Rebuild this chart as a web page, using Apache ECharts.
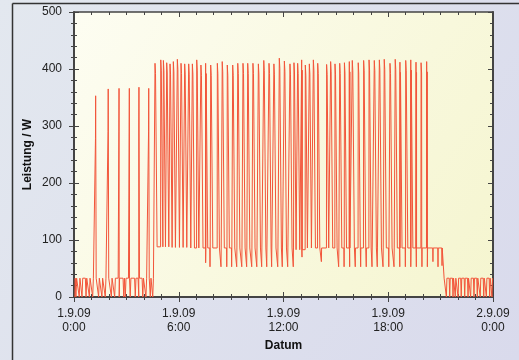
<!DOCTYPE html>
<html><head><meta charset="utf-8">
<script src="https://cdn.jsdelivr.net/npm/echarts@6/dist/echarts.min.js"></script>
<style>html,body{margin:0;padding:0;background:#e0e4ee;overflow:hidden}#c{width:519px;height:360px}</style>
</head><body><div id="c"></div>
<script>
// ---- tick labels (x axis in hours since 1.9.09 0:00) ----
const xTickLabels = ['1.9.09\n0:00', '1.9.09\n6:00', '1.9.09\n12:00', '1.9.09\n18:00', '2.9.09\n0:00'];

// ---- baseline levels (W) ----
const lowLevel = 33;                 // night / standby level
const jumpUpTime = 4.64;             // hours
const dropDownTime = 21.14;          // hours
const baseStepTimes  = [4.64, 5.5, 6.5, 12.6, 13.3];
const baseStepValues = [88,   87,  86,  83,   86];

// ---- early spikes (0:00 - 4:40) ----
const spikeTimesA = [1.24, 1.96, 2.58, 3.17, 3.72, 4.28];
const spikePeaksA = [353, 365, 366, 366, 368, 366];
// ---- dips to zero during low level ----
const dipTimesA = [0.11, 0.30, 0.46, 0.69, 0.88, 1.07, 1.41, 1.60, 1.79, 2.14, 2.33, 2.59, 2.85, 2.94, 3.22, 3.51, 3.71, 3.94, 4.12, 4.37, 4.51];

// ---- main spikes (4:40 - 20:15) ----
const spikeTimesB = [4.64, 4.97, 5.12, 5.31, 5.50, 5.69, 5.92, 6.13, 6.34, 6.57,
  6.78, 7.03, 7.27, 7.54, 7.83, 8.21, 8.49, 8.78, 9.09, 9.38,
  9.68, 9.95, 10.25, 10.56, 10.87, 11.17, 11.45, 11.76, 12.05, 12.37,
  12.60, 12.81, 13.04, 13.25, 13.48, 13.71, 13.96, 14.47, 14.70, 14.95,
  15.22, 15.49, 15.77, 15.94, 16.28, 16.59, 16.90, 17.20, 17.49, 17.77,
  18.10, 18.40, 18.67, 19.00, 19.29, 19.59, 19.88, 20.20];
const spikePeaksB = [410, 416, 415, 411, 409, 413, 417, 410, 409, 409,
  409, 416, 407, 410, 407, 410, 413, 407, 407, 410,
  410, 410, 410, 409, 415, 410, 409, 419, 414, 409,
  411, 410, 416, 407, 409, 416, 410, 408, 413, 409,
  410, 411, 413, 415, 411, 415, 416, 415, 416, 417,
  410, 417, 412, 415, 416, 412, 411, 413];

// ---- dips during high level ----
const dipTimesB = [7.54, 7.79, 8.42, 8.75, 9.03, 9.32, 9.61, 9.89, 10.18, 10.47,
  10.75, 11.04, 11.32, 11.67, 11.93, 12.24, 12.56, 13.06, 14.17, 15.16,
  15.47, 15.79, 16.11, 16.42, 16.74, 17.07, 17.37, 17.70, 18.03, 18.33,
  18.66, 18.98, 19.29, 19.61, 19.93, 20.24, 20.56, 20.85, 21.08];
const dipValuesB = [60, 53, 53, 53, 53, 53, 53, 53, 53, 53,
  53, 53, 53, 53, 53, 53, 53, 70, 62, 53,
  53, 53, 53, 53, 53, 53, 53, 53, 53, 53,
  53, 53, 53, 53, 53, 53, 62, 53, 55];

// ---- late dips to zero (21:10 - 24:00) ----
const dipTimesC = [21.33, 21.52, 21.71, 21.84, 22.00, 22.18, 22.38, 22.57, 22.72, 22.91, 23.10, 23.27, 23.47, 23.62, 23.81, 23.94];

const startTime = 0.05, endTime = 23.98;

function baseAt(t) {
  if (t < jumpUpTime || t > dropDownTime) return lowLevel;
  let v = baseStepValues[0];
  for (let i = 0; i < baseStepTimes.length; i++) if (t >= baseStepTimes[i]) v = baseStepValues[i];
  return v;
}

// build the line's point list from the read features
const pts = [];
pts.push([startTime, 0], [startTime + 0.02, lowLevel]);
spikeTimesA.forEach((t, i) => {
  pts.push([t - 0.05, baseAt(t - 0.05)], [t - 0.01, spikePeaksA[i] - 75], [t, spikePeaksA[i]], [t + 0.03, baseAt(t + 0.03)]);
});
dipTimesA.forEach(t => { pts.push([t - 0.04, lowLevel], [t, 0], [t + 0.04, lowLevel]); });
spikeTimesB.forEach((t, i) => {
  pts.push([t - 0.01, baseAt(t - 0.01)], [t, spikePeaksB[i]], [t + 0.03, spikePeaksB[i] - 18], [t + 0.12, baseAt(t + 0.12)]);
});
dipTimesB.forEach((t, i) => { pts.push([t - 0.012, baseAt(t - 0.012)], [t, dipValuesB[i]], [t + 0.012, baseAt(t + 0.012)]); });
pts.push([dropDownTime - 0.04, baseAt(dropDownTime - 0.04)], [dropDownTime + 0.06, lowLevel]);
dipTimesC.forEach(t => { pts.push([t - 0.03, lowLevel], [t, 0], [t + 0.03, lowLevel]); });
pts.push([endTime, lowLevel]);
pts.sort((a, b) => a[0] - b[0]);

const font = 'Liberation Sans, Arial, sans-serif';
const axisCol = '#444';
const tickStyle = { color: axisCol, width: 1 };
const chart = echarts.init(document.getElementById('c'), null, { renderer: 'canvas' });
chart.setOption({
  animation: false,
  backgroundColor: new echarts.graphic.LinearGradient(0, 0, 1, 1, [
    { offset: 0, color: '#e3e8ef' }, { offset: 1, color: '#d9daec' }]),
  textStyle: { fontFamily: font },
  graphic: [
    { type: 'line', shape: { x1: 12.5, y1: 3.5, x2: 519, y2: 3.5 }, style: { stroke: '#333', lineWidth: 1.5 } },
    { type: 'line', shape: { x1: 12.5, y1: 3.5, x2: 12.5, y2: 360 }, style: { stroke: '#333', lineWidth: 1.5 } }
  ],
  grid: {
    left: 74, right: 26, top: 12, bottom: 63, show: true, borderWidth: 0,
    backgroundColor: new echarts.graphic.LinearGradient(0, 0, 1, 1, [
      { offset: 0, color: '#fdfdf2' }, { offset: 1, color: '#f5f5cf' }])
  },
  xAxis: [
    { type: 'value', position: 'bottom', min: 0, max: 24, interval: 6,
      axisLine: { show: true, onZero: false, lineStyle: { color: axisCol, width: 2 } },
      axisTick: { show: true, inside: false, length: 5, lineStyle: tickStyle },
      minorTick: { show: true, splitNumber: 6, length: 3, lineStyle: tickStyle },
      splitLine: { show: false },
      axisLabel: { margin: 10, fontSize: 12, color: '#222', lineHeight: 14, fontFamily: font,
        formatter: v => xTickLabels[Math.round(v / 6)] },
      name: 'Datum', nameLocation: 'middle', nameGap: 43, nameMoveOverlap: false,
      nameTextStyle: { fontWeight: 'bold', fontSize: 12, color: '#111', fontFamily: font } },
    { type: 'value', position: 'bottom', min: 0, max: 24, interval: 6,
      axisLine: { show: false, onZero: false }, axisLabel: { show: false }, splitLine: { show: false },
      axisTick: { show: true, inside: true, length: 5, lineStyle: tickStyle },
      minorTick: { show: true, splitNumber: 6, length: 3, lineStyle: tickStyle } },
    { type: 'value', position: 'top', min: 0, max: 24, interval: 6,
      axisLine: { show: true, onZero: false, lineStyle: { color: axisCol, width: 1.5 } }, axisLabel: { show: false }, splitLine: { show: false },
      axisTick: { show: true, inside: true, length: 5, lineStyle: tickStyle },
      minorTick: { show: true, splitNumber: 6, length: 3, lineStyle: tickStyle } }
  ],
  yAxis: [
    { type: 'value', position: 'left', min: 0, max: 500, interval: 100,
      axisLine: { show: true, onZero: false, lineStyle: { color: axisCol, width: 2 } },
      axisTick: { show: true, inside: false, length: 5, lineStyle: tickStyle },
      minorTick: { show: true, splitNumber: 5, length: 3, lineStyle: tickStyle },
      splitLine: { show: false },
      axisLabel: { margin: 12, fontSize: 12, color: '#222', fontFamily: font },
      name: 'Leistung / W', nameLocation: 'middle', nameGap: 40, nameMoveOverlap: false,
      nameTextStyle: { fontWeight: 'bold', fontSize: 12, color: '#111', fontFamily: font } },
    { type: 'value', position: 'left', min: 0, max: 500, interval: 100,
      axisLine: { show: false, onZero: false }, axisLabel: { show: false }, splitLine: { show: false },
      axisTick: { show: true, inside: true, length: 5, lineStyle: tickStyle },
      minorTick: { show: true, splitNumber: 5, length: 3, lineStyle: tickStyle } },
    { type: 'value', position: 'right', min: 0, max: 500, interval: 100,
      axisLine: { show: true, onZero: false, lineStyle: { color: axisCol, width: 2 } }, axisLabel: { show: false }, splitLine: { show: false },
      axisTick: { show: true, inside: true, length: 5, lineStyle: tickStyle },
      minorTick: { show: true, splitNumber: 5, length: 3, lineStyle: tickStyle } }
  ],
  series: [{
    type: 'line', xAxisIndex: 0, yAxisIndex: 0, data: pts, z: 1,
    showSymbol: false, symbol: 'none', sampling: null, silent: true,
    lineStyle: { color: '#f2553a', width: 1 }
  }]
});
</script>
</body></html>
